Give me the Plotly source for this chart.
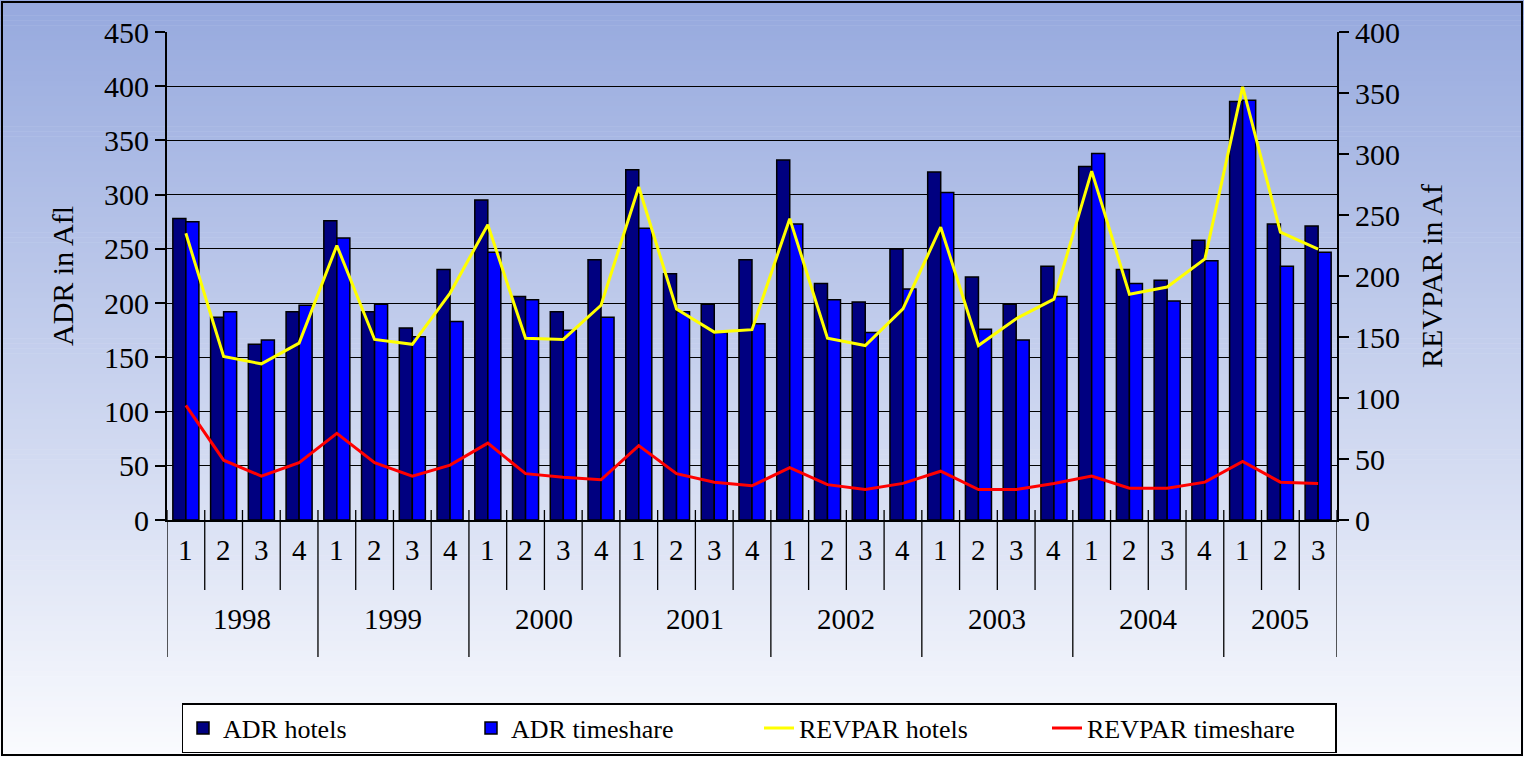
import plotly.graph_objects as go

# ---------------- data ----------------
years = ["1998", "1999", "2000", "2001", "2002", "2003", "2004", "2005"]
quarters_per_year = [4, 4, 4, 4, 4, 4, 4, 3]

adr_hotels = [278, 187, 162, 192,
              276, 192, 177, 231,
              295, 206, 192, 240,
              323, 227, 199, 240,
              332, 218, 201, 250,
              321, 224, 199, 234,
              326, 231, 221, 258,
              386, 273, 271]
adr_timeshare = [275, 192, 166, 198,
                 260, 199, 169, 183,
                 247, 203, 175, 187,
                 269, 192, 173, 181,
                 273, 203, 173, 213,
                 302, 176, 166, 206,
                 338, 218, 202, 239,
                 387, 234, 247]
revpar_hotels = [235, 134, 128, 145,
                 225, 148, 144, 186,
                 242, 149, 148, 176,
                 273, 173, 154, 156,
                 247, 149, 143, 173,
                 240, 143, 165, 181,
                 286, 185, 191, 214,
                 355, 236, 222]
revpar_timeshare = [94, 49, 36, 47,
                    71, 47, 36, 45,
                    63, 38, 35, 33,
                    61, 38, 31, 28,
                    43, 29, 25, 30,
                    40, 25, 25, 30,
                    36, 26, 26, 31,
                    48, 31, 30]

quarter_labels = [str(q + 1) for n in quarters_per_year for q in range(n)]
idx = list(range(len(quarter_labels)))

# ---------------- layout geometry ----------------
W, H = 1524, 757
ML, MR, MT, MB = 167, 187, 32, 237
PW, PH = W - ML - MR, H - MT - MB


def py(pix):
    return (H - MB - pix) / PH


def px(pix):
    return (pix - ML) / PW


FONT = "Liberation Serif"

fig = go.Figure()
fig.add_trace(go.Bar(x=idx, y=adr_hotels, name="ADR hotels",
                     marker=dict(color="#000080", line=dict(color="black", width=1.5))))
fig.add_trace(go.Bar(x=idx, y=adr_timeshare, name="ADR timeshare",
                     marker=dict(color="#0000ff", line=dict(color="black", width=1.5))))
fig.add_trace(go.Scatter(x=idx, y=revpar_hotels, name="REVPAR hotels", yaxis="y2",
                         mode="lines", line=dict(color="#ffff00", width=3)))
fig.add_trace(go.Scatter(x=idx, y=revpar_timeshare, name="REVPAR timeshare", yaxis="y2",
                         mode="lines", line=dict(color="#ff0000", width=3)))

shapes = []
# gradient background
N = 150
top = (150, 169, 222)
bot = (250, 251, 254)
for k in range(N):
    t = (k + 0.5) / N
    c = tuple(int(round(top[j] + (bot[j] - top[j]) * t)) for j in range(3))
    y0 = H * k / N
    y1 = H * (k + 1) / N + 0.6
    shapes.append(dict(type="rect", xref="paper", yref="paper", layer="below",
                       x0=px(0), x1=px(W), y0=py(y1), y1=py(y0),
                       fillcolor="rgb(%d,%d,%d)" % c, line=dict(width=0)))
# outer border
shapes.append(dict(type="rect", xref="paper", yref="paper", layer="above",
                   x0=px(2), x1=px(W - 2), y0=py(H - 2), y1=py(2),
                   line=dict(color="black", width=2), fillcolor="rgba(0,0,0,0)"))

# category dividers
year_starts = []
s = 0
for n in quarters_per_year:
    year_starts.append(s)
    s += n
n_total = len(quarter_labels)
for b in range(n_total + 1):
    is_year = b in year_starts or b == n_total
    shapes.append(dict(type="line", xref="x", yref="paper", layer="above",
                       x0=b - 0.5, x1=b - 0.5, y0=py(510),
                       y1=py(657 if is_year else 590),
                       line=dict(color="black", width=1.3)))

annotations = []
for i, q in enumerate(quarter_labels):
    annotations.append(dict(x=i, y=py(568), xref="x", yref="paper", text=q,
                            showarrow=False, font=dict(family=FONT, size=29, color="black")))
for ys, n, yl in zip(year_starts, quarters_per_year, years):
    annotations.append(dict(x=ys + (n - 1) / 2, y=py(637), xref="x", yref="paper", text=yl,
                            showarrow=False, font=dict(family=FONT, size=29, color="black")))

fig.update_layout(
    width=W, height=H,
    margin=dict(l=ML, r=MR, t=MT, b=MB, autoexpand=False),
    paper_bgcolor="white",
    plot_bgcolor="rgba(0,0,0,0)",
    barmode="group", bargap=0.31, bargroupgap=0,
    font=dict(family=FONT, size=28, color="black"),
    shapes=shapes,
    annotations=annotations,
    showlegend=True,
    legend=dict(orientation="h", x=px(759), xanchor="center", y=py(703), yanchor="top",
                bgcolor="white", bordercolor="black", borderwidth=1.5,
                font=dict(family=FONT, size=26, color="black"),
                entrywidth=243, entrywidthmode="pixels", traceorder="normal"),
    xaxis=dict(range=[-0.5, n_total - 0.5], showticklabels=False, ticks="",
               showgrid=False, zeroline=False, showline=True, linecolor="black",
               linewidth=1.5, mirror=False, fixedrange=True),
    yaxis=dict(range=[0, 450], dtick=50, tick0=0, showgrid=True, gridcolor="black",
               gridwidth=1, zeroline=False, showline=True, linecolor="black", linewidth=2,
               ticks="outside", ticklen=10, tickcolor="black", tickwidth=1.5,
               tickfont=dict(family=FONT, size=30, color="black"),
               title=dict(text="ADR in Afl", font=dict(family=FONT, size=30, color="black"),
                          standoff=22),
               automargin=False),
    yaxis2=dict(range=[0, 400], dtick=50, tick0=0, overlaying="y", side="right",
                showgrid=False, zeroline=False, showline=True, linecolor="black", linewidth=2,
                ticks="outside", ticklen=10, tickcolor="black", tickwidth=1.5,
                tickfont=dict(family=FONT, size=30, color="black"),
                title=dict(text="REVPAR in Af", font=dict(family=FONT, size=30, color="black"),
                           standoff=22),
                automargin=False),
)

fig.write_html("out.html", config={"displayModeBar": False},
               post_script="document.body.style.margin='0px';document.body.style.overflow='hidden';")
